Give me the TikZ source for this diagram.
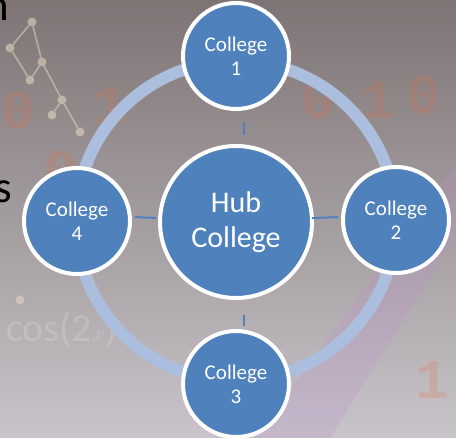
\documentclass[tikz,border=0pt]{standalone}
\usepackage{fontspec}
\setmainfont{Carlito}
\newfontfamily\monofam{Liberation Mono}
\definecolor{bgtop}{RGB}{126,116,116}
\definecolor{bgmid}{RGB}{152,144,146}
\definecolor{bgbot}{RGB}{200,196,201}
\definecolor{ringc}{RGB}{172,190,222}
\definecolor{nodeblue}{RGB}{79,129,189}
\definecolor{digit}{RGB}{226,112,70}
\definecolor{beige}{RGB}{226,212,192}
\definecolor{purp}{RGB}{190,140,210}
\tikzset{
  satnode/.style={circle, draw=white, line width=4pt, fill=nodeblue, minimum size=106pt, inner sep=0pt,
    text=white, align=center, font=\fontsize{21}{24}\selectfont},
  hubnode/.style={circle, draw=white, line width=4pt, fill=nodeblue, minimum size=152pt, inner sep=0pt,
    text=white, align=center, font=\fontsize{30}{35}\selectfont},
  conn/.style={draw=nodeblue, line width=2pt},
  ringline/.style={draw=ringc, line width=12pt},
  digittext/.style={text=digit, opacity=0.22, font=\monofam\bfseries\fontsize{56}{56}\selectfont, inner sep=0pt},
  mol/.style={draw=beige, line width=1.6pt, opacity=0.55},
  molnode/.style={circle, fill=beige, opacity=0.6, inner sep=0pt, minimum size=9pt},
  fainttext/.style={text=white, opacity=0.16, font=\fontsize{40}{40}\selectfont, inner sep=0pt},
  edgetext/.style={text=black, font=\fontsize{45}{54}\selectfont, inner sep=0pt, anchor=base east}
}
\begin{document}
\begin{tikzpicture}[x=1pt,y=-1pt]
\useasboundingbox (0,0) rectangle (456,438);
\clip (0,0) rectangle (456,438);
% background
\shade[top color=bgtop, middle color=bgmid, bottom color=bgbot] (0,0) rectangle (456,438);
\fill[purp, opacity=0.22] (456,165) -- (456,235) -- (330,438) -- (255,438) -- cycle;
% faint orange digits
\node[digittext] (d1) at (18,110) {0};
\node[digittext] (d2) at (110,105) {1};
\node[digittext] (d3) at (318,100) {0};
\node[digittext] (d4) at (378,100) {1};
\node[digittext] (d5) at (423,95) {0};
\node[digittext] (d6) at (60,170) {0};
\node[digittext] (d7) at (432,380) {1};
% faint molecule
\node[molnode] (m1) at (32,22) {};
\node[molnode] (m2) at (10,48) {};
\node[molnode] (m3) at (42,62) {};
\node[molnode] (m4) at (30,80) {};
\node[molnode] (m5) at (62,100) {};
\node[molnode] (m6) at (80,132) {};
\node[molnode] (m7) at (52,115) {};
\node[molnode] (m8) at (20,300) {};
\draw[mol] (m1) -- (m2) (m1) -- (m3) (m3) -- (m4) (m3) -- (m5) (m5) -- (m7) (m5) -- (m6) (m4) -- (m2);
\node[fainttext] (f1) at (62,330) {cos(2$x$)};
% ring
\draw[ringline] (236,221) circle[radius=160pt];
% nodes
\node[hubnode] (hub) at (236,222) {Hub\\College};
\node[satnode] (c1) at (236,56) {College\\1};
\node[satnode] (c2) at (396,220) {College\\2};
\node[satnode] (c3) at (236,384) {College\\3};
\node[satnode] (c4) at (77,221) {College\\4};
% connectors
\draw[conn, shorten <=11pt, shorten >=9pt] ([xshift=8pt]c1.south) -- ([xshift=8pt]hub.north);
\draw[conn, shorten <=15pt, shorten >=3pt] ([xshift=8pt]hub.south) -- ([xshift=8pt]c3.north);
\draw[conn, shorten <=3pt, shorten >=2pt] ([yshift=4pt]c4.east) -- ([yshift=4pt]hub.west);
\draw[conn, shorten <=-2pt, shorten >=3pt] ([yshift=4pt]hub.east) -- ([yshift=3pt]c2.west);
% cut-off slide text at the left edge (cut off in the reference too)
\node[edgetext] (t1) at (9,21) {n};
\node[edgetext] (t2) at (12,203) {s};
\end{tikzpicture}
\end{document}
